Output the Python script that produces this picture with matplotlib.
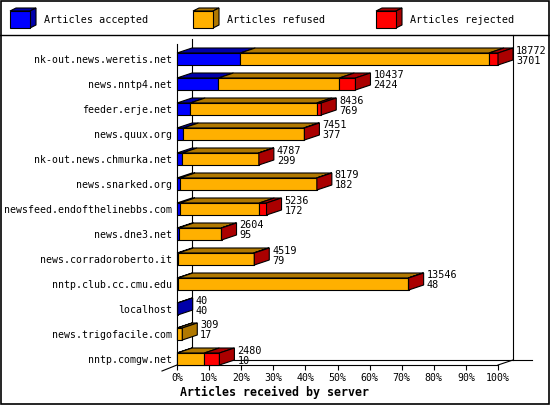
import matplotlib
matplotlib.use('Agg')
import matplotlib.pyplot as plt
from matplotlib.patches import Polygon, Rectangle

# data
servers = ['nk-out.news.weretis.net', 'news.nntp4.net', 'feeder.erje.net', 'news.quux.org',
           'nk-out.news.chmurka.net', 'news.snarked.org', 'newsfeed.endofthelinebbs.com',
           'news.dne3.net', 'news.corradoroberto.it', 'nntp.club.cc.cmu.edu', 'localhost',
           'news.trigofacile.com', 'nntp.comgw.net']
accepted = [3701, 2424, 769, 377, 299, 182, 172, 95, 79, 48, 40, 17, 10]
refused = [14544, 7068, 7400, 7034, 4468, 7987, 4641, 2489, 4400, 13468, 0, 292, 1590]
rejected = [527, 945, 267, 40, 20, 10, 423, 20, 40, 30, 0, 0, 880]
series_names = ['Articles accepted', 'Articles refused', 'Articles rejected']
face_colors = ['#0000ff', '#ffb000', '#ff0000']
dark_colors = ['#0000aa', '#b07800', '#aa0000']
tick_pcts = list(range(0, 101, 10))

W, H = 550, 405
MONO = 'DejaVu Sans Mono'
FS = 7.1
LW = 0.8

fig = plt.figure(figsize=(W / 100, H / 100), dpi=100)

# background layer in pixel coords: frame, legend
lax = fig.add_axes([0, 0, 1, 1])
lax.set_xlim(0, W)
lax.set_ylim(H, 0)
lax.axis('off')
lax.add_patch(Rectangle((0.5, 0.5), W - 1.5, H - 1.5, fill=False, lw=1.2, ec='black'))
lax.plot([0, W], [35, 35], color='black', lw=1.0)
for k, (name, fc, dc) in enumerate(zip(series_names, face_colors, dark_colors)):
    x0 = 10 + 183 * k
    lax.add_patch(Polygon([(x0, 11), (x0 + 20, 11), (x0 + 26, 8), (x0 + 6, 8)], fc=dc, ec='black', lw=LW))
    lax.add_patch(Polygon([(x0 + 20, 11), (x0 + 20, 28), (x0 + 26, 25), (x0 + 26, 8)], fc=dc, ec='black', lw=LW))
    lax.add_patch(Rectangle((x0, 11), 20, 17, fc=fc, ec='black', lw=LW))
    lax.text(x0 + 34, 20, name, family=MONO, fontsize=FS + 0.2, va='center', ha='left')

# plot axes: x in percent of the largest server total, y in rows
left_px, right_px, top_px, bot_px = 177, 498, 44, 365
row0_px, row_step = 59, 25
ax = fig.add_axes([left_px / W, 1 - bot_px / H, (right_px - left_px) / W, (bot_px - top_px) / H])
ax.patch.set_alpha(0)
ax.set_xlim(0, 100)
ax.set_ylim((bot_px - row0_px) / row_step, (top_px - row0_px) / row_step)

px_x = 100 / (right_px - left_px)
dx = 15 * px_x
dy = 5 / row_step
hh = 6 / row_step
ybot = (bot_px - row0_px) / row_step

# back walls / floor
kw = dict(color='black', lw=LW, clip_on=False, zorder=1)
ax.plot([dx, dx], [ybot - dy, (39 - row0_px) / row_step], **kw)
ax.plot([100 + dx, 100 + dx], [ybot - dy, (35 - row0_px) / row_step], **kw)
ax.plot([dx, (532 - left_px) * px_x], [ybot - dy, ybot - dy], **kw)
ax.plot([100, 100 + dx], [ybot, ybot - dy], **kw)
ax.plot([0, -dx], [ybot, ybot + hh], **kw)

totals = [a + r + j for a, r, j in zip(accepted, refused, rejected)]
biggest = max(totals)

for i, name in enumerate(servers):
    segs = [accepted[i], refused[i], rejected[i]]
    x = 0
    last = 0
    for k, v in enumerate(segs):
        if v <= 0:
            continue
        w = v / biggest * 100
        top = i - hh
        ax.add_patch(Polygon([(x, top), (x + w, top), (x + w + dx, top - dy), (x + dx, top - dy)],
                             fc=dark_colors[k], ec='black', lw=LW, clip_on=False, zorder=3))
        ax.add_patch(Rectangle((x, i - hh), w, 2 * hh, fc=face_colors[k], ec='black', lw=LW,
                               clip_on=False, zorder=3))
        x += w
        last = k
    ax.add_patch(Polygon([(x, i - hh), (x, i + hh), (x + dx, i + hh - dy), (x + dx, i - hh - dy)],
                         fc=dark_colors[last], ec='black', lw=LW, clip_on=False, zorder=3))
    ax.annotate(str(totals[i]), xy=(x + dx, i), xytext=(3, 8.5), textcoords='offset pixels',
                family=MONO, fontsize=FS + 0.2, va='center', ha='left', zorder=4, annotation_clip=False)
    ax.annotate(str(accepted[i]), xy=(x + dx, i), xytext=(3, -1.5), textcoords='offset pixels',
                family=MONO, fontsize=FS + 0.2, va='center', ha='left', zorder=4, annotation_clip=False)

ax.set_yticks(range(len(servers)))
ax.set_yticklabels(servers, family=MONO, fontsize=FS)
ax.set_xticks(tick_pcts)
ax.set_xticklabels([f'{p}%' for p in tick_pcts], family=MONO, fontsize=FS)
ax.tick_params(axis='y', length=0, pad=3.6)
ax.tick_params(axis='x', length=3.6, width=LW, direction='out', pad=2.5)
for side in ('top', 'right'):
    ax.spines[side].set_visible(False)
for side in ('left', 'bottom'):
    ax.spines[side].set_linewidth(LW)
    ax.spines[side].set_zorder(2)

fig.text(180 / W, 1 - 392 / H, 'Articles received by server', family=MONO, fontsize=8.4,
         fontweight='bold', ha='left', va='center')

fig.savefig('out.png', dpi=100)
